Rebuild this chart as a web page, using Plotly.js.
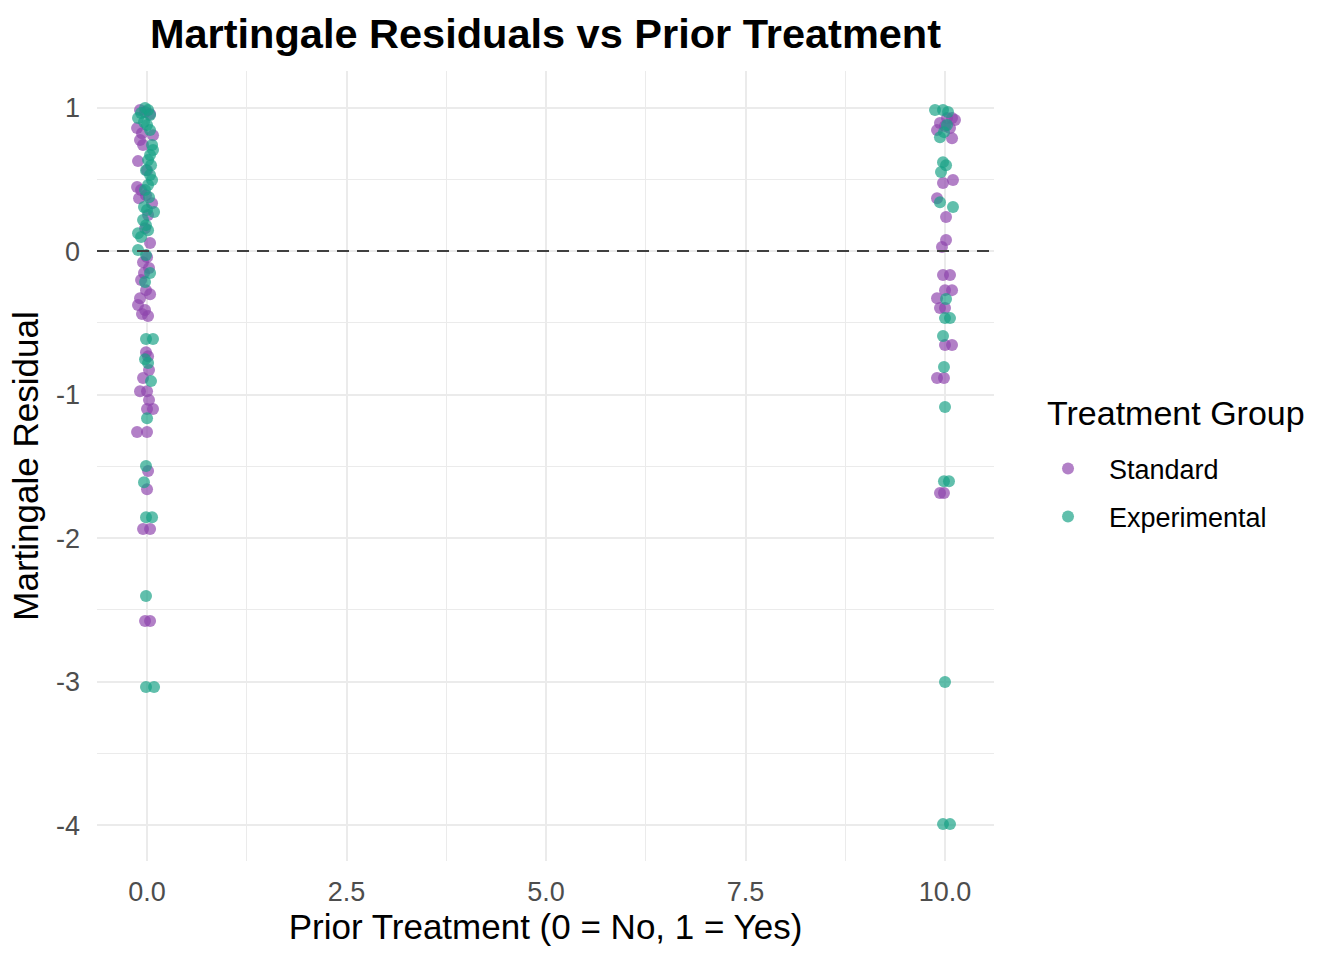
<!DOCTYPE html>
<html>
<head>
<meta charset="utf-8">
<script src="https://cdn.plot.ly/plotly-3.0.1.min.js"></script>
<style>html,body{margin:0;padding:0;background:#fff;}#chart{width:1344px;height:960px;}</style>
</head>
<body>
<div id="chart"></div>
<script>
// Standard group (jittered prior treatment, martingale residual)
const standardX = [
  -0.088,-0.025,0.038,-0.125,-0.063,0.075,-0.088,-0.05,-0.113,0,-0.125,-0.075,-0.013,-0.1,0.063,0.013,-0.025,0.038,
  0,-0.05,0.025,-0.038,-0.075,-0.013,-0.088,0.038,-0.113,-0.025,-0.063,0.013,-0.013,0.013,0.025,-0.05,-0.088,0,
  0.025,0,0.075,-0.125,0,0.013,0,-0.05,0.038,-0.025,0.038,
  10.025,10.088,10.125,9.937,10,10.063,9.9,10.088,10.1,9.975,9.9,10.013,10.013,9.962,9.975,10.063,10,10.088,
  9.9,9.937,10,10,10.088,9.9,9.987,9.937,9.987
];
const standardY = [
  0.983,0.969,0.955,0.857,0.822,0.808,0.774,0.739,0.627,0.564,0.446,0.425,0.390,0.369,0.334,0.251,0.160,0.056,
  -0.042,-0.077,-0.118,-0.153,-0.202,-0.272,-0.328,-0.300,-0.376,-0.411,-0.439,-0.453,-0.704,-0.732,-0.829,-0.885,-0.976,-0.976,
  -1.038,-1.101,-1.101,-1.261,-1.261,-1.533,-1.659,-1.937,-1.937,-2.578,-2.578,
  0.927,0.927,0.913,0.892,0.871,0.857,0.843,0.787,0.495,0.474,0.369,0.237,0.077,0.028,-0.167,-0.167,-0.272,-0.272,
  -0.328,-0.397,-0.397,-0.655,-0.655,-0.885,-0.885,-1.686,-1.686
];
// Experimental group
const experimentalX = [
  -0.025,0.013,-0.075,0.038,-0.113,-0.038,0,0.038,0.063,0.075,0.038,0.013,0.05,-0.013,0.038,0.063,0.013,-0.025,
  0.025,-0.038,0,0.088,-0.05,-0.013,0.013,-0.113,-0.075,-0.113,-0.013,0.038,-0.025,-0.013,0.075,-0.025,0.013,0.05,
  0,-0.013,-0.038,-0.013,0.063,-0.013,-0.013,0.088,
  9.875,9.975,10.038,9.987,9.937,10.025,9.975,10.013,9.95,9.937,10.1,10.013,10,10.063,9.975,9.987,10,9.987,10.05,
  10,9.975,10.063
];
const experimentalY = [
  0.997,0.983,0.962,0.948,0.927,0.899,0.878,0.843,0.739,0.704,0.669,0.634,0.599,0.564,0.530,0.495,0.460,0.425,
  0.376,0.307,0.286,0.272,0.216,0.181,0.146,0.125,0.098,0.007,-0.028,-0.153,-0.216,-0.613,-0.613,-0.753,-0.780,-0.906,
  -1.164,-1.498,-1.610,-1.854,-1.854,-2.404,-3.038,-3.038,
  0.983,0.983,0.969,0.829,0.794,0.878,0.620,0.599,0.551,0.341,0.307,-0.334,-0.467,-0.467,-0.592,-0.808,-1.087,-1.603,-1.603,
  -3.003,-3.993,-3.993
];
const xTicks = [0, 2.5, 5, 7.5, 10];
const xTickLabels = ["0.0", "2.5", "5.0", "7.5", "10.0"];
const yTicks = [-4, -3, -2, -1, 0, 1];
const yTickLabels = ["-4", "-3", "-2", "-1", "0", "1"];

const font = "Liberation Sans, Arial, Helvetica, sans-serif";
const traces = [
  {x: standardX, y: standardY, type: "scatter", mode: "markers", name: "Standard", legendgroup: "s",
   marker: {color: "#8E44AD", size: 12, opacity: 0.68, line: {width: 0}}},
  {x: experimentalX, y: experimentalY, type: "scatter", mode: "markers", name: "Experimental", legendgroup: "e",
   marker: {color: "#16A085", size: 12, opacity: 0.68, line: {width: 0}}}
];
const layout = {
  width: 1344, height: 960,
  margin: {l: 97, r: 350, t: 71, b: 99},
  paper_bgcolor: "#fff", plot_bgcolor: "#fff",
  font: {family: font, color: "#000"},
  title: {text: "<b>Martingale Residuals vs Prior Treatment</b>", x: 0.5, xref: "paper", xanchor: "center",
          y: 1 - 33/960, yanchor: "middle", font: {size: 41.5, color: "#000", family: font}},
  xaxis: {range: [-0.627, 10.614], tickvals: xTicks, ticktext: xTickLabels, showgrid: true, gridcolor: "#ebebeb", gridwidth: 2,
          zeroline: false, showline: false, ticks: "", ticklabelstandoff: 12, tickfont: {size: 27, color: "#4d4d4d"},
          minor: {tickvals: [1.25, 3.75, 6.25, 8.75], showgrid: true, gridcolor: "#ebebeb", gridwidth: 1},
          title: {text: "Prior Treatment (0 = No, 1 = Yes)", font: {size: 35, color: "#000"}, standoff: 8}},
  yaxis: {range: [-4.25, 1.255], tickvals: yTicks, ticktext: yTickLabels, showgrid: true, gridcolor: "#ebebeb", gridwidth: 2,
          zeroline: false, showline: false, ticks: "", ticklabelstandoff: 16, tickfont: {size: 27, color: "#4d4d4d"},
          minor: {tickvals: [-3.5, -2.5, -1.5, -0.5, 0.5], showgrid: true, gridcolor: "#ebebeb", gridwidth: 1},
          title: {text: "Martingale Residual", font: {size: 35, color: "#000"}, standoff: 6}},
  shapes: [{type: "line", xref: "paper", x0: 0, x1: 1, yref: "y", y0: 0, y1: 0,
            line: {color: "#404040", width: 2, dash: "12px,8px"}}],
  annotations: [{text: "Treatment Group", xref: "paper", yref: "paper", x: 1.0569, y: 0.567,
                 xanchor: "left", yanchor: "middle", showarrow: false, font: {size: 34, color: "#000"}}],
  legend: {x: 1.0368, xanchor: "left", y: 0.466, yanchor: "middle", traceorder: "grouped", tracegroupgap: 10,
           itemwidth: 72, font: {size: 27, color: "#000"}, bgcolor: "rgba(0,0,0,0)"},
  showlegend: true
};
Plotly.newPlot("chart", traces, layout, {displayModeBar: false, staticPlot: true});
</script>
</body>
</html>
